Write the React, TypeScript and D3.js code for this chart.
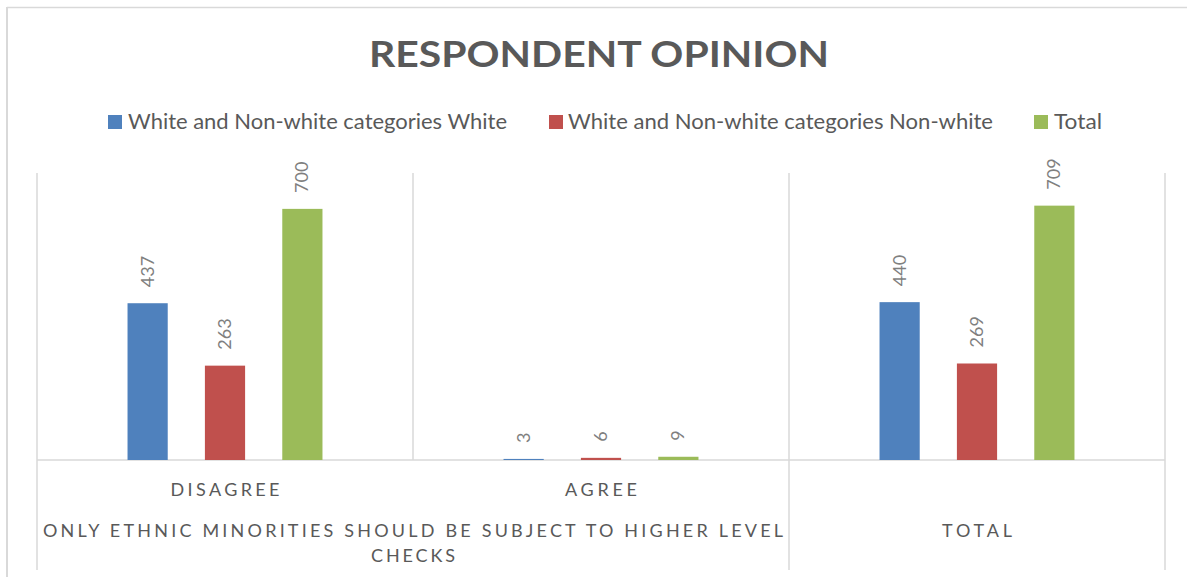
import React from "react";
import * as d3 from "d3";

const categories = ["DISAGREE", "AGREE", "TOTAL"];
const seriesNames = [
  "White and Non-white categories White",
  "White and Non-white categories Non-white",
  "Total",
];
const whiteValues = [437, 3, 440];
const nonWhiteValues = [263, 6, 269];
const totalValues = [700, 9, 709];
const colors = ["#4f81bd", "#c0504d", "#9bbb59"];
const groupLabelLine1 = "ONLY ETHNIC MINORITIES SHOULD BE SUBJECT TO HIGHER LEVEL";
const groupLabelLine2 = "CHECKS";
const title = "RESPONDENT OPINION";
const yMax = 800;

const W = 1187;
const H = 577;
const FONT = "Lato, 'Open Sans', 'DejaVu Sans', sans-serif";

export default function App() {
  const plotLeft = 37;
  const plotRight = 1165;
  const plotTop = 173;
  const baseline = 460;

  const x = d3.scaleBand<string>().domain(categories).range([plotLeft, plotRight]).padding(0);
  const inner = d3
    .scaleBand<number>()
    .domain([0, 1, 2])
    .range([0, x.bandwidth()])
    .paddingInner(37 / 77)
    .paddingOuter(1.17);
  const y = d3.scaleLinear().domain([0, yMax]).range([baseline, plotTop]);

  const series = [whiteValues, nonWhiteValues, totalValues];

  const legendItems = [
    { sq: 108, tx: 128, len: 379 },
    { sq: 549, tx: 568, len: 425 },
    { sq: 1034, tx: 1054, len: 48 },
  ];

  const catLabelLens = [109, 72, 70];
  const catRowY = [496, 496, 537];

  return (
    <svg
      width={W}
      height={H}
      style={{ position: "absolute", left: 0, top: 0, background: "#fff" }}
      fontFamily={FONT}
    >
      {/* outer chart border */}
      <line x1={7} y1={7.5} x2={W} y2={7.5} stroke="#d9d9d9" strokeWidth={1.3} />
      <line x1={7} y1={7} x2={7} y2={H} stroke="#d9d9d9" strokeWidth={2} />

      <text
        x={599}
        y={67}
        textAnchor="middle"
        fontSize={36}
        fontWeight={700}
        fill="#595959"
        textLength={460}
        lengthAdjust="spacingAndGlyphs"
      >
        {title}
      </text>

      {seriesNames.map((name, i) => (
        <g key={name}>
          <rect x={legendItems[i].sq} y={115} width={14} height={14} fill={colors[i]} />
          <text
            x={legendItems[i].tx}
            y={129}
            fontSize={21}
            fill="#595959"
            textLength={legendItems[i].len}
            lengthAdjust="spacingAndGlyphs"
          >
            {name}
          </text>
        </g>
      ))}

      {/* axis lines */}
      <line x1={plotLeft} y1={baseline} x2={plotRight} y2={baseline} stroke="#d9d9d9" strokeWidth={1.5} />
      <line x1={plotLeft} y1={plotTop} x2={plotLeft} y2={570} stroke="#d9d9d9" strokeWidth={1.5} />
      <line x1={x("AGREE")!} y1={plotTop} x2={x("AGREE")!} y2={baseline} stroke="#d9d9d9" strokeWidth={1.5} />
      <line x1={x("TOTAL")!} y1={plotTop} x2={x("TOTAL")!} y2={570} stroke="#d9d9d9" strokeWidth={1.5} />
      <line x1={plotRight} y1={plotTop} x2={plotRight} y2={570} stroke="#d9d9d9" strokeWidth={1.5} />

      {categories.map((c, ci) => (
        <g key={c}>
          {series.map((vals, si) => {
            const bx = x(c)! + inner(si)!;
            const bw = inner.bandwidth();
            const top = y(vals[ci]);
            const cx = bx + bw / 2;
            const ly = top - 16;
            return (
              <g key={si}>
                <rect x={bx} y={top} width={bw} height={baseline - top} fill={colors[si]} />
                <text
                  transform={`translate(${cx + 6},${ly}) rotate(-90)`}
                  fontSize={18}
                  fill="#7f7f7f"
                >
                  {vals[ci]}
                </text>
              </g>
            );
          })}
          <text
            x={x(c)! + x.bandwidth() / 2}
            y={catRowY[ci]}
            textAnchor="middle"
            fontSize={18}
            fill="#595959"
            textLength={catLabelLens[ci]}
            lengthAdjust="spacing"
          >
            {c}
          </text>
        </g>
      ))}

      <text
        x={(plotLeft + x("TOTAL")!) / 2}
        y={537}
        textAnchor="middle"
        fontSize={18}
        fill="#595959"
        textLength={740}
        lengthAdjust="spacing"
      >
        {groupLabelLine1}
      </text>
      <text
        x={(plotLeft + x("TOTAL")!) / 2}
        y={562}
        textAnchor="middle"
        fontSize={18}
        fill="#595959"
        textLength={84}
        lengthAdjust="spacing"
      >
        {groupLabelLine2}
      </text>
    </svg>
  );
}
